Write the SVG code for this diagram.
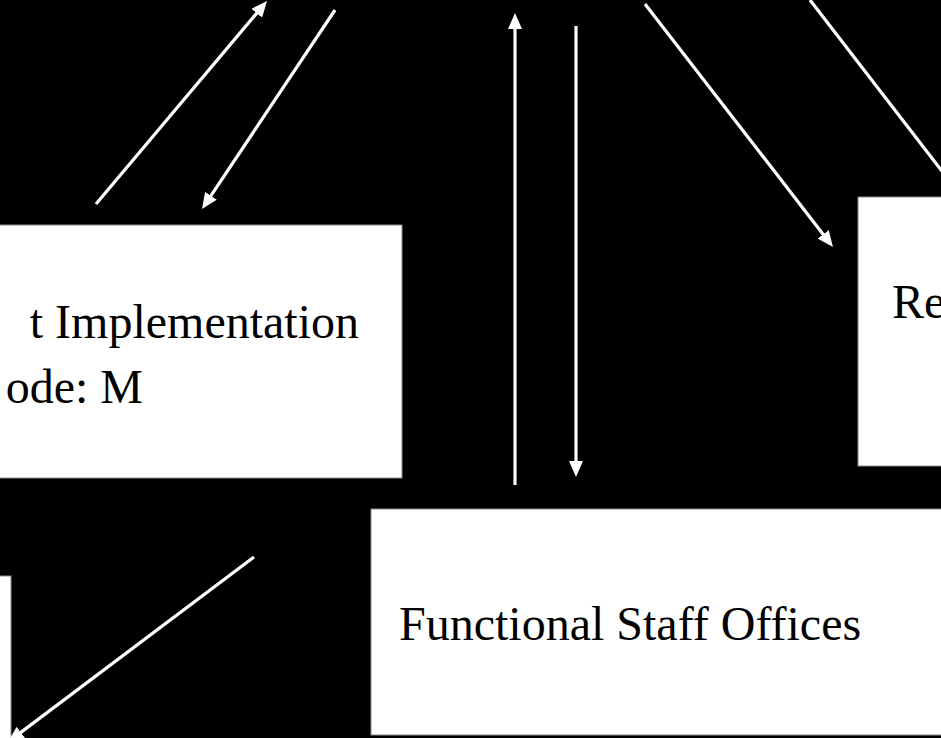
<svg xmlns="http://www.w3.org/2000/svg" width="941" height="738" viewBox="0 0 941 738">
<style>
.box{fill:#ffffff;stroke:#8c8c8c;stroke-width:1}
.lbl{font-family:"Liberation Serif","Times New Roman",serif;font-size:48px;fill:#000000}
.conn{stroke:#ffffff;stroke-width:3.2;fill:none;stroke-linecap:butt}
</style>
<defs>
<marker id="ah" viewBox="0 0 16 14" refX="2" refY="7" markerWidth="16" markerHeight="14" markerUnits="userSpaceOnUse" orient="auto">
<path d="M0,0 L16,7 L0,14 z" fill="#ffffff"/>
</marker>
</defs>
<rect x="0" y="0" width="941" height="738" fill="#000000"/>
<g id="node-implementation">
<rect class="box" x="-20" y="225" width="422" height="253"/>
<text class="lbl" x="359" y="338" text-anchor="end">t Implementation</text>
<text class="lbl" x="143" y="403" text-anchor="end">ode: M</text>
</g>
<g id="node-right">
<rect class="box" x="858" y="197" width="110" height="269"/>
<text class="lbl" x="892" y="318">Re</text>
</g>
<g id="node-functional-staff">
<rect class="box" x="371" y="509" width="600" height="226"/>
<text class="lbl" x="399" y="640">Functional Staff Offices</text>
</g>
<g id="node-bottom-left">
<rect class="box" x="-20" y="576" width="31" height="180"/>
</g>
<g id="connectors">
<line class="conn" x1="96" y1="204" x2="258" y2="11.7" marker-end="url(#ah)"/>
<line class="conn" x1="335" y1="10" x2="209.8" y2="197.4" marker-end="url(#ah)"/>
<line class="conn" x1="515" y1="485" x2="515" y2="27" marker-end="url(#ah)"/>
<line class="conn" x1="576" y1="26" x2="576" y2="463" marker-end="url(#ah)"/>
<line class="conn" x1="645" y1="4" x2="824.4" y2="235.9" marker-end="url(#ah)"/>
<line class="conn" x1="810" y1="0" x2="962" y2="197"/>
<line class="conn" x1="254" y1="557" x2="19.2" y2="733.6" marker-end="url(#ah)"/>
</g>
</svg>
